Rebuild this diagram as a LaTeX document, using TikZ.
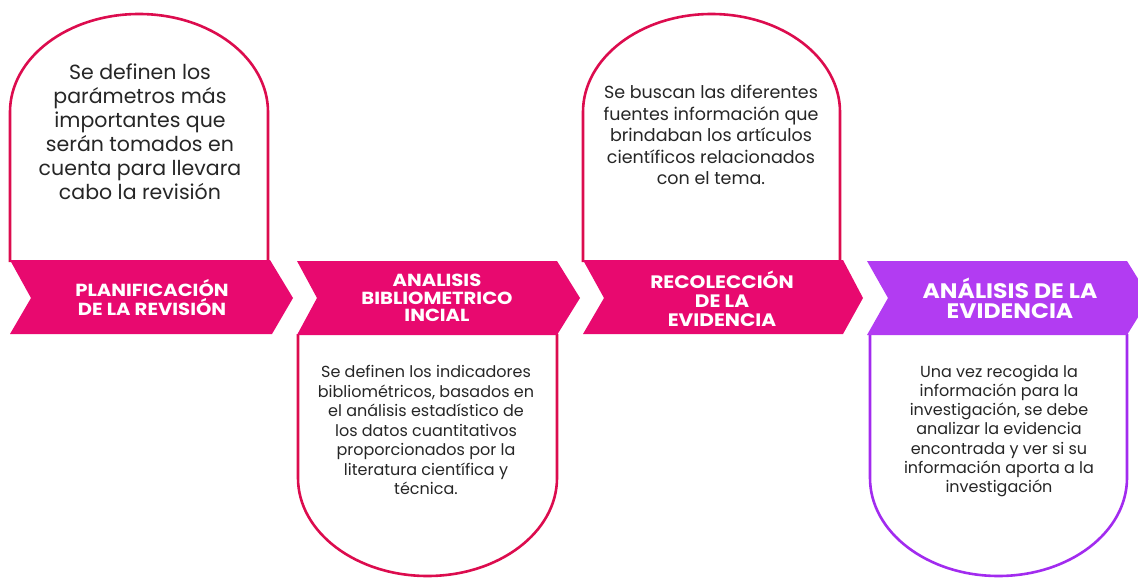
\documentclass[tikz,border=0pt]{standalone}
\usepackage{fontspec}
\setmainfont{Poppins}
\newfontfamily\titlefont[FakeStretch=1.12]{Poppins}
\usepackage{xcolor}
\usepackage{tikz}
\usetikzlibrary{positioning,calc}

\definecolor{stepPink}{HTML}{E8096F}
\definecolor{stepRed}{HTML}{DC0C4E}
\definecolor{stepPurple}{HTML}{B23CF2}
\definecolor{cardPurple}{HTML}{A22BEF}
\definecolor{bodyText}{HTML}{262626}

\tikzset{
  card/.style={draw=stepRed, line width=2.6pt, fill=white},
  chevron/.style={fill=stepPink, draw=none},
  title/.style={text=white, align=center, font=\titlefont\bfseries\fontsize{17.5}{18}\selectfont},
  body/.style={text=bodyText, align=center, font=\fontsize{16}{19.5}\selectfont}
}

\begin{document}
\begin{tikzpicture}[x=1pt, y=-1pt]
    \useasboundingbox (0,0) rectangle (1138,578);

    % Step 1: card on top
    \draw [card] (10,262) -- (10,112) arc[start angle=180, end angle=360, x radius=129, y radius=98] -- (268,262);
    \draw [chevron] (10,260) -- (270,260) -- (293,298) -- (272,334) -- (10,334) -- (31,298) -- cycle;
    \node [body, font=\fontsize{20.5}{24}\selectfont] (planText) at (140,132) {Se definen los\\par\'ametros m\'as\\importantes que\\ser\'an tomados en\\cuenta para llevara\\cabo la revisi\'on};
    \node [title, font=\titlefont\bfseries\fontsize{17.5}{19}\selectfont] (planTitle) at (152,298) {PLANIFICACI\'ON\\DE LA REVISI\'ON};

    % Step 2: card below
    \draw [card] (298,334) -- (298,478) arc[start angle=180, end angle=0, x radius=129.5, y radius=98] -- (557,334);
    \draw [chevron] (297,261) -- (557,261) -- (580,298) -- (557,335) -- (297,335) -- (317,298) -- cycle;
    \node [body] (biblioText) at (426,430) {Se definen los indicadores\\bibliom\'etricos, basados en\\el an\'alisis estad\'istico de\\los datos cuantitativos\\proporcionados por la\\literatura cient\'ifica y\\t\'ecnica.};
    \node [title, font=\titlefont\bfseries\fontsize{17.5}{17.5}\selectfont] (biblioTitle) at (437,298) {ANALISIS\\BIBLIOMETRICO\\INCIAL};

    % Step 3: card on top
    \draw [card] (583,262) -- (583,112) arc[start angle=180, end angle=360, x radius=128.5, y radius=98] -- (840,262);
    \draw [chevron] (583,260) -- (843,260) -- (863,298) -- (843,334) -- (583,334) -- (604,298) -- cycle;
    \node [body, font=\fontsize{17.5}{21.5}\selectfont] (buscaText) at (711,135) {Se buscan las diferentes\\fuentes informaci\'on que\\brindaban los art\'iculos\\cient\'ificos relacionados\\con el tema.};
    \node [title, font=\titlefont\bfseries\fontsize{18}{19}\selectfont] (recoTitle) at (722,299) {RECOLECCI\'ON\\DE LA\\EVIDENCIA};

    % Step 4: purple, card below
    \draw [card, draw=cardPurple] (870,334) -- (870,478) arc[start angle=180, end angle=0, x radius=128.5, y radius=98] -- (1127,334);
    \draw [chevron, fill=stepPurple] (867,261) -- (1127,261) -- (1150,298) -- (1127,335) -- (867,335) -- (888,298) -- cycle;
    \node [body, font=\fontsize{16}{19.2}\selectfont] (evidText) at (999,431) {Una vez recogida la\\informaci\'on para la\\investigaci\'on, se debe\\analizar la evidencia\\encontrada y ver si su\\informaci\'on aporta a la\\investigaci\'on};
    \node [title, font=\titlefont\bfseries\fontsize{21}{20}\selectfont] (evidTitle) at (1010,298) {AN\'ALISIS DE LA\\EVIDENCIA};
\end{tikzpicture}
\end{document}
